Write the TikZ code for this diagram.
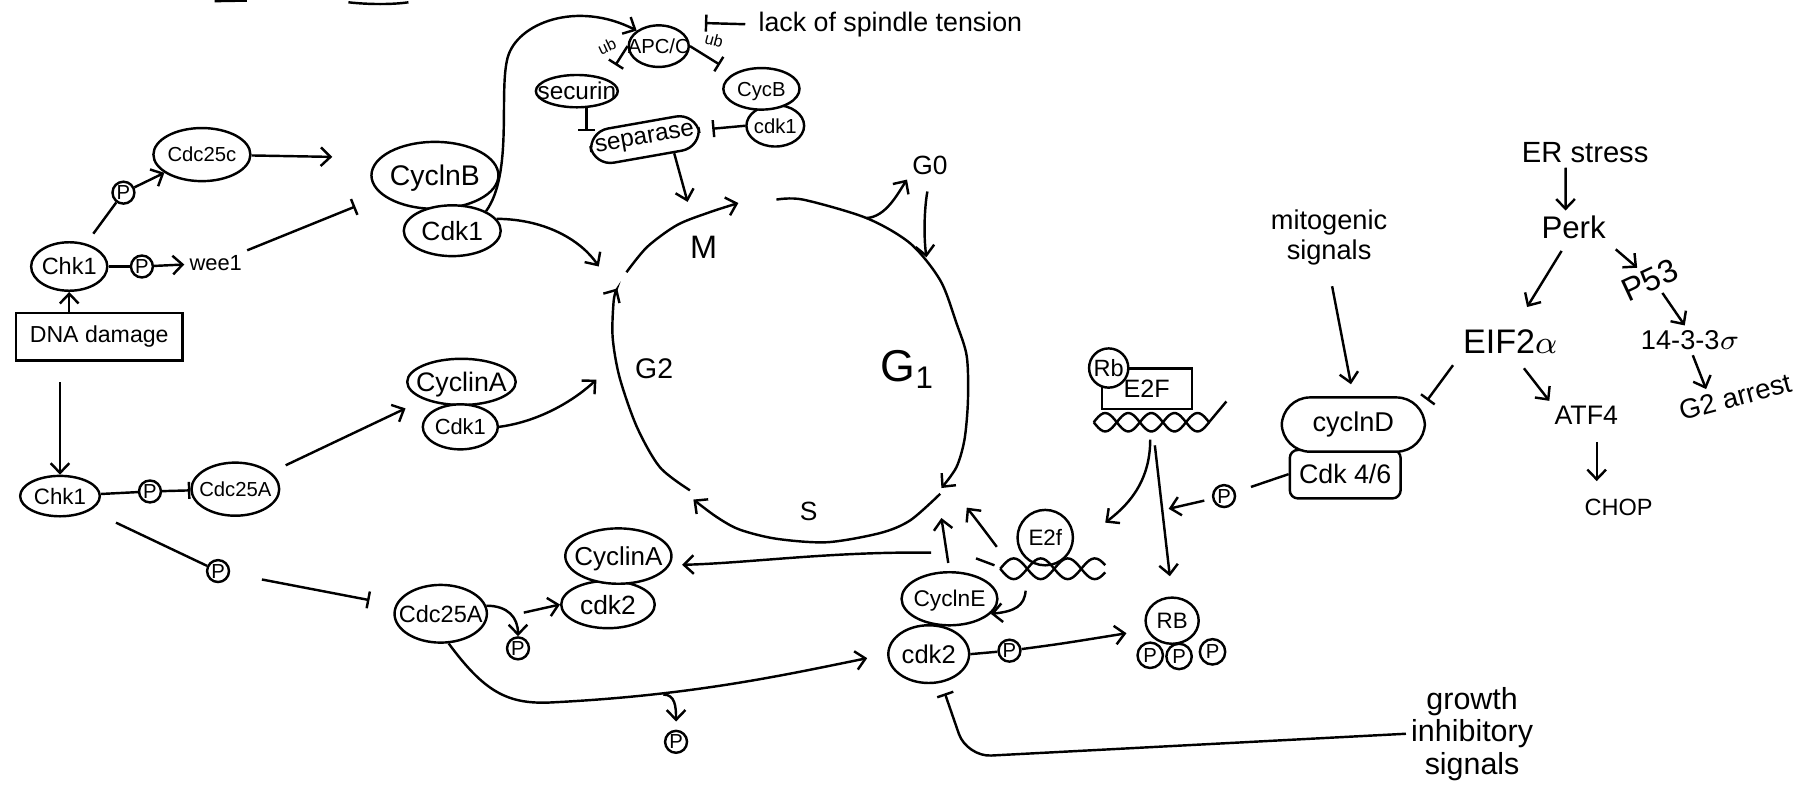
\documentclass[tikz,border=0pt]{standalone}
\usepackage{fontspec}
\setmainfont{Liberation Sans}
\usetikzlibrary{shapes.geometric,arrows.meta}
\newcommand{\intxt}[1]{\smash{\makebox[0pt]{\raisebox{-0.36em}{#1}}}}
\newcommand{\fs}[1]{\fontsize{#1}{#1}\selectfont}

\begin{document}
\begin{tikzpicture}[x=0.01cm,y=-0.01cm,line width=0.6pt,
    >={Straight Barb[length=2.4pt,width=4.6pt]},
    font=\fs{6.5},
    prot/.style={ellipse,draw,fill=white,inner sep=0pt},
    phos/.style={circle,draw,fill=white,inner sep=0pt,minimum size=0.19cm,font=\fs{5}},
    lbl/.style={inner sep=1pt},
    inh/.style={-{Bar[width=4.2pt]}}]
\useasboundingbox (0,0) rectangle (1568,688);

% scraps at the top edge
\draw (186,1) -- (214,0.5);
\draw (302,2) .. controls (320,4) and (340,4) .. (354,2);

% DNA damage checkpoint
\node[draw,inner sep=0pt,minimum width=1.44cm,minimum height=0.41cm,font=\fs{5.7}] (dna) at (86,292) {DNA damage};
\node[prot,minimum width=0.66cm,minimum height=0.42cm,font=\fs{5.8}] (chk1a) at (60,231) {\intxt{Chk1}};
\node[phos] (pb) at (107,167) {P};
\node[prot,minimum width=0.84cm,minimum height=0.46cm,font=\fs{5}] (cdc25c) at (175,134) {\intxt{Cdc25c}};
\node[phos] (pa) at (123,231) {P};
\node[lbl,font=\fs{5.4}] (wee1) at (187,228) {wee1};
\coordinate (c25cend) at (288,136);
\coordinate (wee1end) at (308,179);
\node[prot,minimum width=0.69cm,minimum height=0.35cm,font=\fs{5.5}] (chk1b) at (52,430) {\intxt{Chk1}};
\node[phos] (pc) at (130,426) {P};
\node[prot,minimum width=0.76cm,minimum height=0.46cm,font=\fs{5}] (cdc25a) at (204,424) {\intxt{Cdc25A}};
\node[phos] (pd) at (189,495) {P};
\node[prot,minimum width=0.80cm,minimum height=0.50cm,font=\fs{5.8}] (cdc25a2) at (382,532) {\intxt{Cdc25A}};
\node[phos] (pe) at (449,562) {P};
\node[phos] (pf) at (586,643) {P};

% cyclin / cdk complexes
\node[prot,minimum width=1.10cm,minimum height=0.58cm,font=\fs{7}] (cycb) at (377,152) {\intxt{CyclnB}};
\node[prot,minimum width=0.84cm,minimum height=0.44cm,font=\fs{6.5}] (cdk1b) at (392,200) {\intxt{Cdk1}};
\node[prot,minimum width=0.94cm,minimum height=0.40cm,font=\fs{6.6}] (cyca) at (400,331) {\intxt{CyclinA}};
\node[prot,minimum width=0.65cm,minimum height=0.39cm,font=\fs{5.4}] (cdk1a) at (399,370) {\intxt{Cdk1}};
\node[prot,minimum width=0.81cm,minimum height=0.41cm,font=\fs{6.5}] (cdk2a) at (527,524) {\intxt{cdk2}};
\node[prot,minimum width=0.92cm,minimum height=0.48cm,font=\fs{6.4}] (cyca2) at (536,482) {\intxt{CyclinA}};

% spindle checkpoint
\node[prot,minimum width=0.52cm,minimum height=0.36cm,font=\fs{5}] (apc) at (571,40) {\intxt{APC/C}};
\node[lbl,anchor=west,font=\fs{6.6}] (spindle) at (653,21) {lack of spindle tension};
\coordinate (apcin) at (611,20);
\node[prot,minimum width=0.71cm,minimum height=0.28cm,font=\fs{6}] (securin) at (500,79) {\intxt{securin}};
\node[prot,minimum width=0.50cm,minimum height=0.36cm,font=\fs{5}] (cdk1c) at (672,109) {\intxt{cdk1}};
\node[prot,minimum width=0.66cm,minimum height=0.36cm,font=\fs{5}] (cycbb) at (660,77) {\intxt{CycB}};
\node[draw,fill=white,rounded corners=5pt,rotate=10,inner sep=0pt,minimum width=0.95cm,minimum height=0.30cm,font=\fs{6}] (separase) at (559,121) {separase};
\node[lbl,font=\fs{4},rotate=25] (ub1) at (526,40) {ub};
\node[lbl,font=\fs{4},rotate=-15] (ub2) at (619,35) {ub};

% phases
\node[lbl,font=\fs{8}] (mlbl) at (610,214) {M};
\node[lbl,font=\fs{7}] (g2lbl) at (567,320) {G2};
\node[lbl,font=\fs{11}] (g1lbl) at (787,320) {G\textsubscript{1}};
\node[lbl,font=\fs{6.5}] (slbl) at (701,443) {S};
\node[lbl,font=\fs{6.5}] (g0) at (806,143) {G0};
\coordinate (mtop) at (596,175);
\coordinate (g2in1) at (519,231);
\coordinate (g2in2) at (517,329);
\coordinate (g0split) at (751,189);
\coordinate (g1in) at (803,223);
\coordinate (gs1) at (816,449);
\coordinate (gs2) at (838,440);

% G1/S control
\node[prot,minimum width=0.70cm,minimum height=0.50cm,font=\fs{6.3}] (cdk2b) at (805,567) {\intxt{cdk2}};
\node[prot,minimum width=0.83cm,minimum height=0.46cm,font=\fs{5.6}] (cyce) at (823,519) {\intxt{CyclnE}};
\node[phos] (pg) at (875,564) {P};
\node[circle,draw,fill=white,inner sep=0pt,minimum size=0.48cm,font=\fs{5.5}] (e2f) at (906,466) {E2f};
\node[prot,minimum width=0.46cm,minimum height=0.40cm,font=\fs{5.5}] (rb) at (1016,538) {\intxt{RB}};
\node[phos,minimum size=0.22cm] (rbp1) at (997,568) {P};
\node[phos,minimum size=0.22cm] (rbp2) at (1022,569) {P};
\node[phos,minimum size=0.22cm] (rbp3) at (1051,565) {P};
\node[draw,inner sep=0pt,minimum width=0.78cm,minimum height=0.35cm,font=\fs{6.2}] (e2fbox) at (994,337) {E2F};
\node[circle,draw,fill=white,inner sep=0pt,minimum size=0.34cm,font=\fs{5.8}] (rb0) at (961,319) {Rb};
\coordinate (wave1t) at (864,474);
\coordinate (wave1l) at (862,490);
\coordinate (dashend) at (846,484);
\coordinate (gapend) at (807,479);
\coordinate (wave1b) at (889,512);
\coordinate (wave2a) at (997,381);
\coordinate (wave2b) at (1001,386);
\coordinate (e2fin) at (958,453);
\coordinate (rbline) at (1013,441);
\coordinate (hookend) at (454,531);
\coordinate (brP) at (575,602);
\coordinate (cdk2in) at (819,601);
\coordinate (gcorner) at (838,656);

% mitogenic and ER stress
\node[draw,rounded corners=2pt,inner sep=0pt,minimum width=0.96cm,minimum height=0.42cm,font=\fs{6.6}] (cdk46) at (1166,411) {Cdk 4/6};
\node[draw,fill=white,rounded corners=7pt,inner sep=0pt,minimum width=1.24cm,minimum height=0.47cm,font=\fs{6.7}] (cycd) at (1173,368) {cyclnD};
\node[phos] (p8) at (1061,430) {P};
\node[lbl,align=center,font=\fontsize{6.7}{5.6}\selectfont] (mito) at (1152,206) {mitogenic\\signals};
\node[lbl,font=\fs{7.2}] (er) at (1374,132) {ER stress};
\node[lbl,font=\fs{7.7}] (perk) at (1364,197) {Perk};
\node[lbl,font=\fs{8},rotate=25] (p53) at (1430,243) {P53};
\node[lbl,font=\fs{6.7}] (s1433) at (1465,295) {14-3-3$\sigma$};
\node[lbl,font=\fs{6.8},rotate=15] (g2arr) at (1504,344) {G2 arrest};
\node[lbl,font=\fs{8.4}] (eif) at (1309,296) {EIF2$\alpha$};
\node[lbl,font=\fs{6.6}] (atf4) at (1375,360) {ATF4};
\node[lbl,font=\fs{5.8}] (chop) at (1403,440) {CHOP};
\node[lbl,align=center,font=\fontsize{7.5}{6.3}\selectfont] (growth) at (1276,636) {growth\\inhibitory\\signals};
\coordinate (cycdin) at (1237,347);
\coordinate (chopin) at (1384,417);

% cell cycle
\draw[->] plot[smooth] coordinates {(673,173) (696,173) (751,189) (789,211) (815,243) (829,280) (838,309) (839,347) (836,381) (829,405) (816,423)};
\draw[->] plot[smooth] coordinates {(815,428) (789,451) (763,462) (717,470) (673,467) (641,459) (621,448) (601,433)};
\draw[->] plot[smooth] coordinates {(598,425) (572,405) (552,370) (537,327) (531,292) (532,260) (535,250)};
\draw[->] plot[smooth] coordinates {(543,236) (561,214) (587,195) (615,184) (640,176)};
\draw[->] (g0split) .. controls (768,188) and (778,168) .. (g0.south west);
\draw[->,shorten <=3pt] (g0.south) .. controls (802,175) and (800,200) .. (g1in);

% DNA damage connectors
\draw[->] (dna.north -| chk1a.south) -- (chk1a.south);
\draw[->,shorten <=5pt] (dna.south -| chk1b.north) -- (chk1b.north);
\draw[shorten <=3pt] (chk1a) -- (pb);
\draw[->] (pb) -- (cdc25c);
\draw[->] (cdc25c) -- (c25cend);
\draw (chk1a) -- (pa);
\draw[->] (pa) -- (wee1);
\draw[inh] (wee1) -- (wee1end);
\draw (chk1b) -- (pc);
\draw[inh] (pc) -- (cdc25a);
\draw[->,shorten <=4pt,shorten >=5pt] (cdc25a) -- (cyca);
\draw[shorten <=7pt] (chk1b) -- (pd);
\draw[inh,shorten <=8pt,shorten >=6.5pt] (pd) -- (cdc25a2);
\draw[->] (cdc25a2.10) .. controls (440,525) and (449,535) .. (pe.north);
\draw[->] (hookend) -- (cdk2a.west);
\draw[->,shorten >=5pt] (cdc25a2.-75) .. controls (420,600) and (440,610) .. (475,609) .. controls (600,603) and (680,585) .. (cdk2b.west);
\draw[->,shorten >=2pt] (brP) .. controls (585,602) and (586,612) .. (pf.north);

% complexes into the cycle
\draw[->] (cdk1b.30) .. controls (445,150) and (432,80) .. (440,50) .. controls (448,20) and (500,0) .. (apc.north west);
\draw[->] (cdk1b.15) .. controls (475,190) and (505,210) .. (g2in1);
\draw[->] (cdk1a.east) .. controls (470,365) and (500,345) .. (g2in2);
\draw[->] (separase.-35) -- (mtop);

% spindle checkpoint connectors
\draw[inh] ([xshift=-2pt]spindle.west) -- (apcin);
\draw[inh,shorten >=4pt] (apc.west) -- (securin.north east);
\draw[inh,shorten >=4pt] (apc.east) -- (cycbb.north west);
\draw[inh] (securin.-60) -- (securin.-60 |- separase.north west);
\draw[inh,shorten >=3pt] (cdk1c.west) -- (separase.east);

% DNA strands
\draw plot[domain=0:1,samples=40,smooth] ({867+91*\x},{493+9*sin(\x*700)});
\draw plot[domain=0:1,samples=40,smooth] ({867+91*\x},{493-9*sin(\x*700)});
\draw plot[domain=0:1,samples=50,smooth] ({948+100*\x},{366+8*sin(\x*900)});
\draw plot[domain=0:1,samples=50,smooth] ({948+100*\x},{366-8*sin(\x*900)}) -- (1063,348);

% G1/S connectors
\draw[->,shorten <=2pt] (cyce.north) -- (gs1);
\draw[->] (wave1t) .. controls (855,462) and (846,450) .. (gs2);
\draw (wave1l) -- (dashend);
\draw[->,shorten >=3pt] (gapend) .. controls (720,478) and (650,488) .. (cyca2.-10);
\draw[->] (wave1b) .. controls (888,525) and (880,530) .. (cyce.-20);
\draw (cdk2b.east) -- (pg);
\draw[->,shorten >=5pt] (pg) .. controls (920,558) .. (rb.200);
\draw[->] (wave2a) .. controls (997,420) and (975,440) .. (e2fin);
\draw[->,shorten >=5pt] (wave2b) -- (rb.north);
\draw[shorten >=4pt] (cdk46.west) -- (p8);
\draw[->,shorten <=2pt] (p8) -- (rbline);
\draw[inh,rounded corners=6pt] (growth.west) -- (gcorner) -- (cdk2in);

% mitogenic / ER stress connectors
\draw[->,shorten <=4pt,shorten >=3pt] (mito.south) -- (cycd.north);
\draw[inh,shorten <=2pt] (eif.south west) -- (cycdin);
\draw[->,shorten <=3pt] (eif.-70) -- (atf4.north west);
\draw[->,shorten <=3pt] (atf4.south -| chopin) -- (chopin);
\draw[->] ([xshift=-1.7mm]er.south) -- ([xshift=-0.7mm]perk.north);
\draw[->,shorten <=2pt,shorten >=5pt] (perk.-115) -- (eif.70);
\draw[->,shorten <=2pt] (perk.-25) -- (p53.110);
\draw[->] (p53.-70) -- (s1433.110);
\draw[->] (s1433.-80) -- (g2arr.150);
\end{tikzpicture}
\end{document}
